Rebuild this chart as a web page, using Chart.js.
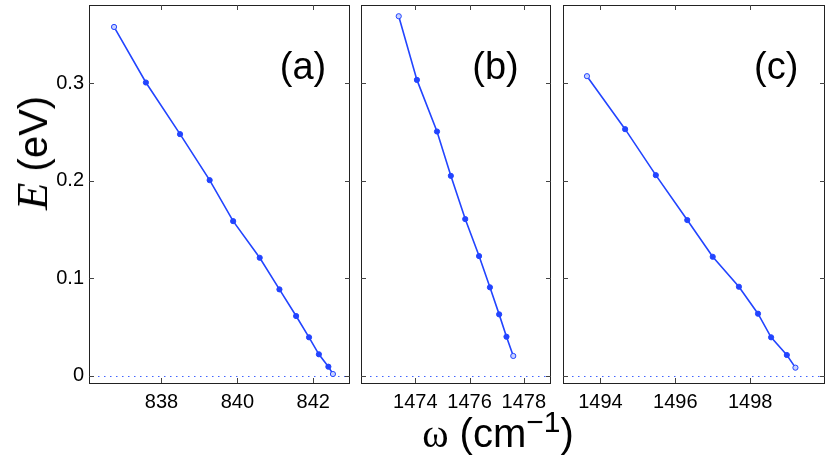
<!DOCTYPE html>
<html>
<head>
<meta charset="utf-8">
<script src="https://cdn.jsdelivr.net/npm/chart.js@4.4.1/dist/chart.umd.min.js"></script>
<style>
  body { margin:0; background:#fff; }
  #wrap { position:relative; width:830px; height:472px; overflow:hidden; background:#fff; }
  canvas { position:absolute; top:0; }
  #xlab { position:absolute; left:0; width:996px; top:410px; text-align:center; font-family:'Liberation Sans',Arial,sans-serif; font-size:40px; color:#000; white-space:nowrap; }
  #xlab .w { font-family:'Liberation Serif','Times New Roman',serif; }
  #xlab sup { font-size:30px; position:relative; top:-5px; vertical-align:top; }
  #ylab { position:absolute; left:32px; top:153px; transform:translate(-50%,-50%) rotate(-90deg); font-family:'Liberation Sans',Arial,sans-serif; font-size:40px; color:#000; white-space:nowrap; }
  #ylab i { font-family:'Liberation Serif','Times New Roman',serif; font-size:45px; }
</style>
</head>
<body>
<div id="wrap">
  <canvas id="panelA" style="left:0px" width="356" height="472"></canvas>
  <canvas id="panelB" style="left:356px" width="200" height="472"></canvas>
  <canvas id="panelC" style="left:558px" width="272" height="472"></canvas>
  <div id="xlab"><span class="w">ω</span> (cm<sup>−1</sup>)</div>
  <div id="ylab"><i>E</i> (eV)</div>
</div>
<script>
// panel (a)
var aW = [836.75, 837.59, 838.49, 839.27, 839.89, 840.59, 841.11, 841.55, 841.89, 842.15, 842.40, 842.52];
var aE = [0.3575, 0.3006, 0.2477, 0.2006, 0.1586, 0.1211, 0.0887, 0.0614, 0.0396, 0.0222, 0.0095, 0.0020];
var aTicks = [838, 840, 842];

// panel (b)
var bW = [1473.39, 1474.06, 1474.80, 1475.31, 1475.84, 1476.35, 1476.75, 1477.09, 1477.36, 1477.61];
var bE = [0.3685, 0.3033, 0.2504, 0.2050, 0.1607, 0.1228, 0.0908, 0.0631, 0.0402, 0.0205];
var bTicks = [1474, 1476, 1478];

// panel (c)
var cW = [1493.64, 1494.66, 1495.48, 1496.32, 1497.00, 1497.70, 1498.21, 1498.56, 1498.98, 1499.21];
var cE = [0.3071, 0.2528, 0.2057, 0.1597, 0.1221, 0.0914, 0.0638, 0.0396, 0.0215, 0.0085];
var cTicks = [1494, 1496, 1498];

var eTicks = [0, 0.1, 0.2, 0.3];

var lineBlue = '#2244ff';
var tickFont = {family: "'Liberation Sans', Arial, sans-serif", size: 20};

// frame, inward ticks, zero line and panel letter
var panelDeco = {
  id: 'panelDeco',
  beforeDatasetsDraw: function(chart) {
    var ctx = chart.ctx, a = chart.chartArea;
    var y0 = Math.round(chart.scales.y.getPixelForValue(0)) + 0.5;
    ctx.save();
    ctx.strokeStyle = '#3f62ff';
    ctx.lineWidth = 1;
    ctx.setLineDash([1.5, 4.5]);
    ctx.beginPath();
    ctx.moveTo(a.left + 3, y0);
    ctx.lineTo(a.right, y0);
    ctx.stroke();
    ctx.restore();
  },
  afterDatasetsDraw: function(chart, args, opts) {
    var ctx = chart.ctx, a = chart.chartArea;
    var xs = chart.scales.x, ys = chart.scales.y;
    ctx.save();
    ctx.strokeStyle = '#222';
    ctx.lineWidth = 1;
    ctx.setLineDash([]);
    ctx.strokeRect(a.left + 0.5, a.top + 0.5, a.right - a.left - 1, a.bottom - a.top);
    ctx.strokeStyle = '#444';
    ctx.beginPath();
    opts.xTicks.forEach(function(v) {
      var px = Math.round(xs.getPixelForValue(v)) + 0.5;
      ctx.moveTo(px, a.bottom); ctx.lineTo(px, a.bottom - 5);
      ctx.moveTo(px, a.top); ctx.lineTo(px, a.top + 5);
    });
    eTicks.forEach(function(v) {
      var py = Math.round(ys.getPixelForValue(v)) + 0.5;
      ctx.moveTo(a.left, py); ctx.lineTo(a.left + 5, py);
      ctx.moveTo(a.right, py); ctx.lineTo(a.right - 5, py);
    });
    ctx.stroke();
    ctx.fillStyle = '#000';
    ctx.font = "38px 'Liberation Sans', Arial, sans-serif";
    ctx.textAlign = 'center';
    ctx.textBaseline = 'middle';
    ctx.fillText(opts.letter, a.left + opts.letterX * (a.right - a.left), 69);
    ctx.restore();
  }
};

function make_panel(id, xs, es, xTicks, xMin, xMax, letter, letterX, showY, pad) {
  var n = xs.length;
  var pts = xs.map(function(x, i) { return {x: x, y: es[i]}; });
  new Chart(document.getElementById(id).getContext('2d'), {
    type: 'scatter',
    data: {
      datasets: [{
        data: pts,
        showLine: true,
        borderColor: lineBlue,
        borderWidth: 1.6,
        pointRadius: 2.6,
        pointBorderWidth: 1,
        pointBorderColor: lineBlue,
        pointBackgroundColor: function(c) {
          return (c.dataIndex === 0 || c.dataIndex === n - 1) ? '#c8d2ff' : lineBlue;
        }
      }]
    },
    options: {
      responsive: false,
      animation: false,
      layout: {padding: {top: 5, left: pad[0], right: pad[1], bottom: 0}},
      plugins: {
        legend: {display: false},
        tooltip: {enabled: false},
        panelDeco: {letter: letter, letterX: letterX, xTicks: xTicks}
      },
      scales: {
        x: {
          type: 'linear',
          min: xMin, max: xMax,
          grid: {display: false, drawTicks: false},
          border: {display: false},
          afterBuildTicks: function(s) { s.ticks = xTicks.map(function(v) { return {value: v}; }); },
          afterFit: function(s) { s.height = 89; s.paddingLeft = 0; s.paddingRight = 0; },
          ticks: {color: '#000', font: tickFont, padding: 7, maxRotation: 0,
                  callback: function(v) { return String(v); }}
        },
        y: {
          type: 'linear',
          display: showY,
          min: -0.0072, max: 0.38,
          grid: {display: false, drawTicks: false},
          border: {display: false},
          afterBuildTicks: function(s) { s.ticks = eTicks.map(function(v) { return {value: v}; }); },
          afterFit: function(s) {
            s.width = showY ? 89 : 0;
            s.paddingTop = 0; s.paddingBottom = 0;
          },
          ticks: {color: '#000', font: tickFont, padding: 5,
                  callback: function(v) { return String(v); }}
        }
      }
    },
    plugins: [panelDeco]
  });
}

make_panel('panelA', aW, aE, aTicks, 836.09, 842.97, '(a)', 0.82, true, [0, 6]);
make_panel('panelB', bW, bE, bTicks, 1472, 1479, '(b)', 0.708, false, [5, 3]);
make_panel('panelC', cW, cE, cTicks, 1493, 1500, '(c)', 0.814, false, [5, 4]);
</script>
</body>
</html>
